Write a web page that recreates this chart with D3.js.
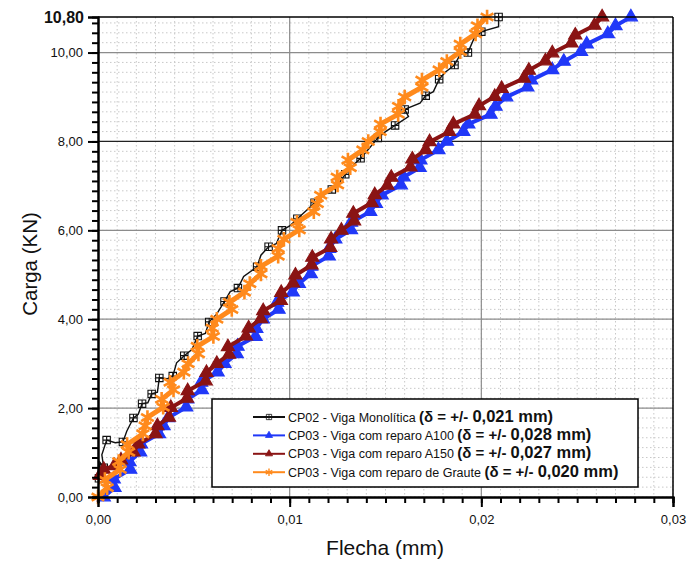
<!DOCTYPE html>
<html><head><meta charset="utf-8">
<script src="https://cdn.jsdelivr.net/npm/d3@7"></script>
<style>
html,body{margin:0;padding:0;background:#fff;}
svg{display:block;font-family:"Liberation Sans",Arial,Helvetica,sans-serif;}
</style></head><body>
<svg id="chart" width="687" height="563"></svg>
<script>
// Load–deflection readings: [flecha (mm), carga (kN)]
const cp02Monolitica = [
  [0.00005,0.42],[0.00010,0.78],[0.00030,0.66],[0.00020,0.95],[0.00045,1.28],[0.00090,1.22],[0.00130,1.24],
  [0.00150,1.48],[0.00185,1.78],[0.00210,1.86],[0.00230,2.10],[0.00260,2.12],[0.00280,2.32],[0.00310,2.36],
  [0.00320,2.68],[0.00360,2.66],[0.00390,2.72],[0.00410,3.02],[0.00450,3.18],[0.00490,3.32],[0.00520,3.62],
  [0.00560,3.68],[0.00580,3.94],[0.00620,4.12],[0.00660,4.40],[0.00690,4.62],[0.00730,4.70],[0.00760,4.96],
  [0.00830,5.18],[0.00850,5.44],[0.00890,5.63],[0.00930,5.70],[0.00960,6.00],[0.01000,6.10],[0.01040,6.26],
  [0.01090,6.46],[0.01130,6.62],[0.01180,6.80],[0.01220,6.92],[0.01250,7.02],[0.01290,7.26],[0.01330,7.46],
  [0.01370,7.62],[0.01410,7.82],[0.01460,8.08],[0.01500,8.22],[0.01550,8.36],[0.01620,8.56],[0.01600,8.72],
  [0.01680,8.86],[0.01710,9.03],[0.01750,9.12],[0.01780,9.40],[0.01810,9.55],[0.01860,9.72],[0.01890,9.96],
  [0.01930,10.00],[0.01960,10.30],[0.02000,10.47],[0.02090,10.58],[0.02090,10.80]
];
const cp03A100 = [
  [0.00030,0.00],[0.00086,0.21],[0.00082,0.40],[0.00168,0.62],[0.00164,0.79],[0.00220,1.01],[0.00224,1.19],
  [0.00318,1.42],[0.00342,1.60],[0.00366,1.78],[0.00460,2.02],[0.00466,2.20],[0.00542,2.41],[0.00538,2.58],
  [0.00624,2.81],[0.00660,3.00],[0.00724,3.22],[0.00728,3.39],[0.00822,3.61],[0.00826,3.79],[0.00860,4.00],
  [0.00942,4.22],[0.00934,4.38],[0.01016,4.61],[0.01048,4.80],[0.01110,5.02],[0.01112,5.19],[0.01204,5.42],
  [0.01206,5.59],[0.01238,5.80],[0.01320,6.01],[0.01320,6.18],[0.01420,6.42],[0.01450,6.60],[0.01480,6.79],
  [0.01580,7.02],[0.01594,7.20],[0.01678,7.41],[0.01682,7.58],[0.01776,7.81],[0.01820,8.00],[0.01906,8.22],
  [0.01932,8.39],[0.02048,8.61],[0.02074,8.79],[0.02130,9.00],[0.02240,9.22],[0.02260,9.38],[0.02370,9.61],
  [0.02430,9.80],[0.02520,10.02],[0.02550,10.19],[0.02660,10.42],[0.02700,10.60],[0.02780,10.80]
];
const cp03A150 = [
  [0.00010,0.48],[0.00030,0.62],[0.00085,0.70],[0.00120,0.83],[0.00185,1.01],[0.00210,1.19],[0.00300,1.42],
  [0.00310,1.60],[0.00370,1.79],[0.00380,2.01],[0.00464,2.22],[0.00468,2.39],[0.00562,2.61],[0.00566,2.80],
  [0.00620,3.00],[0.00684,3.21],[0.00678,3.38],[0.00772,3.62],[0.00786,3.80],[0.00850,4.01],[0.00862,4.19],
  [0.00954,4.42],[0.00956,4.60],[0.01018,4.81],[0.01030,4.99],[0.01114,5.22],[0.01118,5.39],[0.01212,5.61],
  [0.01216,5.80],[0.01270,6.00],[0.01336,6.21],[0.01332,6.38],[0.01428,6.62],[0.01444,6.80],[0.01510,7.01],
  [0.01530,7.19],[0.01630,7.42],[0.01640,7.60],[0.01710,7.81],[0.01730,7.99],[0.01832,8.22],[0.01854,8.39],
  [0.01966,8.61],[0.01988,8.80],[0.02070,9.01],[0.02106,9.19],[0.02222,9.42],[0.02248,9.60],[0.02334,9.81],
  [0.02370,9.99],[0.02470,10.21],[0.02490,10.39],[0.02590,10.61],[0.02630,10.80]
];
const cp03Graute = [
  [0.00000,0.00],[0.00048,0.21],[0.00036,0.39],[0.00116,0.62],[0.00108,0.80],[0.00160,1.01],[0.00152,1.18],
  [0.00234,1.42],[0.00246,1.60],[0.00258,1.79],[0.00340,2.02],[0.00332,2.20],[0.00394,2.41],[0.00376,2.58],
  [0.00448,2.81],[0.00470,3.00],[0.00524,3.22],[0.00518,3.39],[0.00602,3.61],[0.00596,3.80],[0.00620,4.00],
  [0.00698,4.22],[0.00686,4.38],[0.00764,4.61],[0.00792,4.80],[0.00850,5.02],[0.00850,5.19],[0.00940,5.42],
  [0.00940,5.59],[0.00970,5.80],[0.01050,6.01],[0.01038,6.18],[0.01126,6.42],[0.01144,6.60],[0.01162,6.79],
  [0.01250,7.02],[0.01248,7.20],[0.01316,7.41],[0.01304,7.58],[0.01382,7.81],[0.01410,8.00],[0.01472,8.22],
  [0.01474,8.39],[0.01566,8.61],[0.01568,8.79],[0.01600,9.00],[0.01690,9.22],[0.01690,9.38],[0.01780,9.61],
  [0.01820,9.80],[0.01890,10.02],[0.01890,10.19],[0.01970,10.42],[0.01980,10.60],[0.02030,10.80]
];

const legendNames = [
  "CP02 - Viga Monolítica ",
  "CP03 - Viga com reparo A100 ",
  "CP03 - Viga com reparo A150 ",
  "CP03 - Viga com reparo de Graute "
];
const legendDeltas = ["0,021 mm)", "0,028 mm)", "0,027 mm)", "0,020 mm)"];

const xTicks = [0, 0.01, 0.02, 0.03];
const xTickLabels = ["0,00", "0,01", "0,02", "0,03"];
const yTicks = [0, 2, 4, 6, 8, 10];
const yTickLabels = ["0,00", "2,00", "4,00", "6,00", "8,00", "10,00"];
const yMax = 10.8;
const yMaxLabel = "10,80";

const svg = d3.select("#chart");
const pL = 98, pR = 673, pT = 17, pB = 497;

const x = d3.scaleLinear().domain([0, 0.03]).range([pL, pR]);
const y = d3.scaleLinear().domain([0, yMax]).range([pB, pT]);

// minor divisions: 10 per 0.01 mm, 9 per 2 kN
const xMinor = d3.range(0, 0.0300001, 0.001);
const yMinor = d3.range(0, yMax + 1e-9, 2 / 9);

const grid = svg.append("g");
grid.selectAll("line.vmin").data(xMinor).join("line")
  .attr("x1", d => x(d)).attr("x2", d => x(d)).attr("y1", pT).attr("y2", pB)
  .attr("stroke", "#c8c8c8").attr("stroke-width", 1).attr("stroke-dasharray", "1.5,2.5");
grid.selectAll("line.hmin").data(yMinor).join("line")
  .attr("x1", pL).attr("x2", pR).attr("y1", d => y(d)).attr("y2", d => y(d))
  .attr("stroke", "#c8c8c8").attr("stroke-width", 1).attr("stroke-dasharray", "1.5,2.5");
grid.selectAll("line.vmaj").data(xTicks.slice(1, 3)).join("line")
  .attr("x1", d => x(d)).attr("x2", d => x(d)).attr("y1", pT).attr("y2", pB)
  .attr("stroke", "#8c8c8c").attr("stroke-width", 1.2);
grid.selectAll("line.hmaj").data(yTicks.slice(1)).join("line")
  .attr("x1", pL).attr("x2", pR).attr("y1", d => y(d)).attr("y2", d => y(d))
  .attr("stroke", d => d === 8 ? "#222" : "#8c8c8c").attr("stroke-width", 1.2);

// series
const line = d3.line().x(d => x(d[0])).y(d => y(d[1]));
const plot = svg.append("g");

function drawSeries(data, color, symbol, size, filled, every, lineWidth, markWidth) {
  const g = plot.append("g");
  g.append("path").datum(data).attr("d", line)
    .attr("fill", "none").attr("stroke", color).attr("stroke-width", lineWidth).attr("stroke-linejoin", "miter");
  g.selectAll("path.m").data(data.filter((d, i) => i % every === 0)).join("path")
    .attr("transform", d => `translate(${x(d[0])},${y(d[1])})`)
    .attr("d", d3.symbol(symbol, size))
    .attr("fill", filled ? color : "none")
    .attr("stroke", color).attr("stroke-width", markWidth);
  return g;
}

// square with cross for the monolithic beam
const crossSquare = {
  draw(ctx, size) {
    const r = Math.sqrt(size) / 2;
    ctx.moveTo(-r, -r); ctx.lineTo(r, -r); ctx.lineTo(r, r); ctx.lineTo(-r, r); ctx.closePath();
    ctx.moveTo(0, -r); ctx.lineTo(0, r);
    ctx.moveTo(-r, 0); ctx.lineTo(r, 0);
  }
};

const colors = ["#111111", "#2038f8", "#8a1414", "#ff8a1c"];
drawSeries(cp02Monolitica, colors[0], crossSquare, 55, false, 2, 1.4, 1.1);
drawSeries(cp03A100, colors[1], d3.symbolTriangle, 75, true, 1, 4, 1.2);
drawSeries(cp03A150, colors[2], d3.symbolTriangle, 75, true, 1, 4, 1.2);
drawSeries(cp03Graute, colors[3], d3.symbolAsterisk, 150, false, 1, 5, 2.6);

// frame
svg.append("line").attr("x1", pL).attr("x2", pR).attr("y1", pT).attr("y2", pT)
  .attr("stroke", "#000").attr("stroke-width", 1.5);
svg.append("line").attr("x1", pR).attr("x2", pR).attr("y1", pT).attr("y2", pB)
  .attr("stroke", "#000").attr("stroke-width", 1.5);

// axes
const xAxisMinor = d3.axisBottom(x).tickValues(xMinor).tickSize(6).tickFormat("");
const xAxis = d3.axisBottom(x).tickValues(xTicks).tickSize(10).tickPadding(8)
  .tickFormat((d, i) => xTickLabels[i]);
const yAxisMinor = d3.axisLeft(y).tickValues(yMinor).tickSize(6).tickFormat("");
const yAxis = d3.axisLeft(y).tickValues(yTicks).tickSize(10).tickPadding(5)
  .tickFormat((d, i) => yTickLabels[i]);

function styleAxis(g) {
  g.select(".domain").attr("stroke", "#000").attr("stroke-width", 2);
  g.selectAll(".tick line").attr("stroke", "#000").attr("stroke-width", 2);
  g.selectAll("text").attr("fill", "#111").attr("font-size", 13)
    .attr("font-family", '"Liberation Sans",Arial,sans-serif');
}
svg.append("g").attr("transform", `translate(0,${pB})`).call(xAxisMinor).call(styleAxis);
svg.append("g").attr("transform", `translate(0,${pB})`).call(xAxis).call(styleAxis);
svg.append("g").attr("transform", `translate(${pL},0)`).call(yAxisMinor).call(styleAxis);
svg.append("g").attr("transform", `translate(${pL},0)`).call(yAxis).call(styleAxis);
const yTopAxis = svg.append("g").attr("transform", `translate(${pL},0)`)
  .call(d3.axisLeft(y).tickValues([yMax]).tickSize(10).tickPadding(4).tickFormat(() => yMaxLabel))
  .call(styleAxis);
yTopAxis.select(".domain").remove();
yTopAxis.selectAll("text").attr("font-size", 16).attr("font-weight", "bold");

// axis titles
svg.append("text").attr("x", 385).attr("y", 555).attr("text-anchor", "middle")
  .attr("font-size", 21).attr("fill", "#111").text("Flecha (mm)");
svg.append("text").attr("transform", "translate(37,264) rotate(-90)").attr("text-anchor", "middle")
  .attr("font-size", 20.5).attr("fill", "#111").text("Carga (KN)");

// legend
const lg = svg.append("g");
lg.append("rect").attr("x", 212).attr("y", 399).attr("width", 426).attr("height", 88)
  .attr("fill", "#fff").attr("stroke", "#000").attr("stroke-width", 1.5);
const symbols = [crossSquare, d3.symbolTriangle, d3.symbolTriangle, d3.symbolAsterisk];
const symSizes = [28, 22, 22, 40];
legendNames.forEach((name, i) => {
  const cy = 417 + i * 18.4;
  lg.append("line").attr("x1", 253).attr("x2", 285).attr("y1", cy).attr("y2", cy)
    .attr("stroke", colors[i]).attr("stroke-width", 2);
  lg.append("path").attr("transform", `translate(269,${cy})`)
    .attr("d", d3.symbol(symbols[i], symSizes[i]))
    .attr("fill", i === 0 || i === 3 ? "none" : colors[i])
    .attr("stroke", colors[i]).attr("stroke-width", i === 3 ? 1.4 : 0.8);
  const t = lg.append("text").attr("x", 288).attr("y", cy + 4.5).attr("fill", "#111");
  t.append("tspan").attr("font-size", 12.5).text(name);
  t.append("tspan").attr("font-size", 15).attr("font-weight", "bold").text("(δ = +/- ");
  t.append("tspan").attr("font-size", 16.5).attr("font-weight", "bold").text(legendDeltas[i]);
});
</script>
</body></html>
